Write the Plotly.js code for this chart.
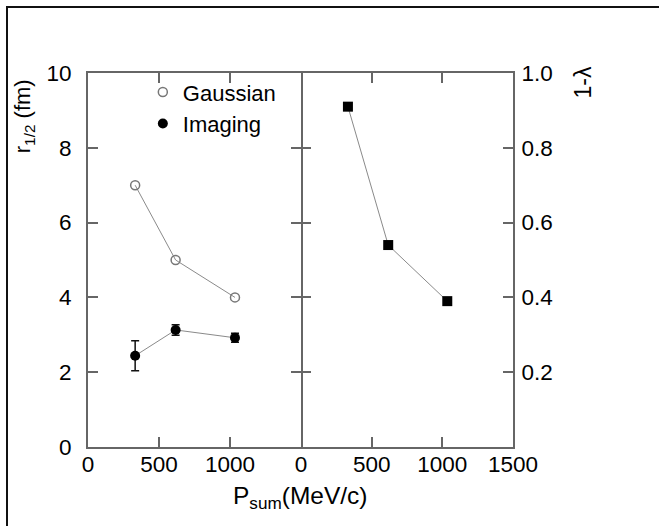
<!DOCTYPE html>
<html>
<head>
<meta charset="utf-8">
<script src="https://cdn.plot.ly/plotly-3.0.1.min.js"></script>
<style>
  html, body { margin: 0; padding: 0; background: #fff; overflow: hidden; }
  #wrap { position: relative; width: 659px; height: 526px; }
  #chart { position: absolute; left: 0; top: 0; width: 659px; height: 526px; }
  #frame { position: absolute; left: 6px; top: 6px; width: 700px; height: 600px;
           border-left: 2px solid #111; border-top: 2px solid #111; pointer-events: none; }
</style>
</head>
<body>
<div id="wrap">
  <div id="chart"></div>
  <div id="frame"></div>
</div>
<script>
// ---- data ----
const pSum = [332, 617, 1035];              // P_sum (MeV/c)
const gaussianR = [7.0, 5.0, 4.0];          // r_1/2 (fm), Gaussian fit
const imagingR = [2.44, 3.13, 2.92];        // r_1/2 (fm), imaging
const imagingErr = [0.40, 0.14, 0.12];      // error bars on imaging
const oneMinusLambda = [0.91, 0.54, 0.39];  // 1 - lambda

const xTicksLeft = [0, 500, 1000];
const xTicksRight = [0, 500, 1000, 1500];
const yTicksLeft = [0, 2, 4, 6, 8, 10];
const yTicksRight = [0.2, 0.4, 0.6, 0.8, 1.0];
const yTickTextRight = ['0.2', '0.4', '0.6', '0.8', '1.0'];

const FONT = 'Liberation Sans, Arial, Helvetica, sans-serif';
const AX = '#666';
const LINEC = '#8a8a8a';

const traces = [
  // connecting lines (no legend)
  { x: pSum, y: gaussianR, type: 'scatter', mode: 'lines', xaxis: 'x', yaxis: 'y',
    showlegend: false, line: {color: LINEC, width: 1} },
  { x: pSum, y: imagingR, type: 'scatter', mode: 'lines', xaxis: 'x', yaxis: 'y',
    showlegend: false, line: {color: LINEC, width: 1} },
  { x: pSum, y: oneMinusLambda, type: 'scatter', mode: 'lines', xaxis: 'x2', yaxis: 'y2',
    showlegend: false, line: {color: LINEC, width: 1} },
  // markers
  {
    x: pSum, y: gaussianR, name: 'Gaussian', type: 'scatter', mode: 'markers',
    xaxis: 'x', yaxis: 'y',
    marker: {symbol: 'circle-open', size: 9, color: '#777', line: {width: 1.5, color: '#777'}}
  },
  {
    x: pSum, y: imagingR, name: 'Imaging', type: 'scatter', mode: 'markers',
    xaxis: 'x', yaxis: 'y',
    marker: {symbol: 'circle', size: 10, color: '#000'},
    error_y: {type: 'data', array: imagingErr, visible: true, color: '#111', thickness: 1.5, width: 4}
  },
  {
    x: pSum, y: oneMinusLambda, name: '1-λ', type: 'scatter', mode: 'markers',
    xaxis: 'x2', yaxis: 'y2', showlegend: false,
    marker: {symbol: 'square', size: 10, color: '#000'}
  }
];

const axisCommon = {
  showline: true, linecolor: AX, linewidth: 2, mirror: 'ticks',
  ticks: 'inside', ticklen: 10, tickwidth: 2, tickcolor: AX,
  showgrid: false, zeroline: false, fixedrange: true,
  tickfont: {family: FONT, size: 22.5, color: '#000'}
};

const layout = {
  width: 659, height: 526,
  margin: {l: 88, r: 146, t: 73, b: 79},
  paper_bgcolor: '#fff', plot_bgcolor: '#fff',
  showlegend: true,
  legend: {
    x: 0.129, y: 1.005, xanchor: 'left', yanchor: 'top',
    bgcolor: 'rgba(0,0,0,0)', borderwidth: 0,
    font: {family: FONT, size: 22, color: '#000'},
    tracegroupgap: 0, itemwidth: 30
  },
  xaxis: Object.assign({}, axisCommon, {
    domain: [0, 0.5012], range: [0, 1500], tickmode: 'array', tickvals: xTicksLeft,
    anchor: 'y', ticklabelstandoff: -4
  }),
  yaxis: Object.assign({}, axisCommon, {
    range: [0, 10], tickmode: 'array', tickvals: yTicksLeft, anchor: 'x',
    ticklabelstandoff: 10
  }),
  xaxis2: Object.assign({}, axisCommon, {
    domain: [0.5012, 1], range: [0, 1500], tickmode: 'array', tickvals: xTicksRight,
    anchor: 'y2', ticklabelstandoff: -4
  }),
  yaxis2: Object.assign({}, axisCommon, {
    range: [0, 1.0], tickmode: 'array', tickvals: yTicksRight, ticktext: yTickTextRight,
    anchor: 'x2', side: 'right', mirror: false, ticklabelstandoff: 2
  }),
  // tick-only overlay for the right panel's left edge (shares the middle line)
  yaxis3: {
    overlaying: 'y2', anchor: 'x2', side: 'left', range: [0, 1.0],
    tickmode: 'array', tickvals: yTicksRight, ticks: 'inside', ticklen: 10, tickwidth: 2,
    tickcolor: AX, showline: false, showticklabels: false, showgrid: false, zeroline: false,
    fixedrange: true
  },
  annotations: [
    {
      xref: 'paper', yref: 'paper', x: -0.15, y: 0.885, xanchor: 'center', yanchor: 'middle',
      text: 'r<sub>1/2</sub> (fm)', textangle: -90, showarrow: false,
      font: {family: FONT, size: 22, color: '#000'}
    },
    {
      xref: 'paper', yref: 'paper', x: 1.165, y: 0.975, xanchor: 'center', yanchor: 'middle',
      text: '1-λ', textangle: -90, showarrow: false,
      font: {family: FONT, size: 23, color: '#000'}
    },
    {
      xref: 'paper', yref: 'paper', x: 0.499, y: -0.135, xanchor: 'center', yanchor: 'middle',
      text: 'P<sub>sum</sub>(MeV/c)', showarrow: false,
      font: {family: FONT, size: 24.5, color: '#000'}
    }
  ]
};

// a dummy hidden trace so yaxis3 gets drawn
traces.push({ x: [null], y: [null], type: 'scatter', mode: 'markers', xaxis: 'x2', yaxis: 'y3',
  showlegend: false, hoverinfo: 'skip' });

Plotly.newPlot('chart', traces, layout, {displayModeBar: false, staticPlot: true});
</script>
</body>
</html>
